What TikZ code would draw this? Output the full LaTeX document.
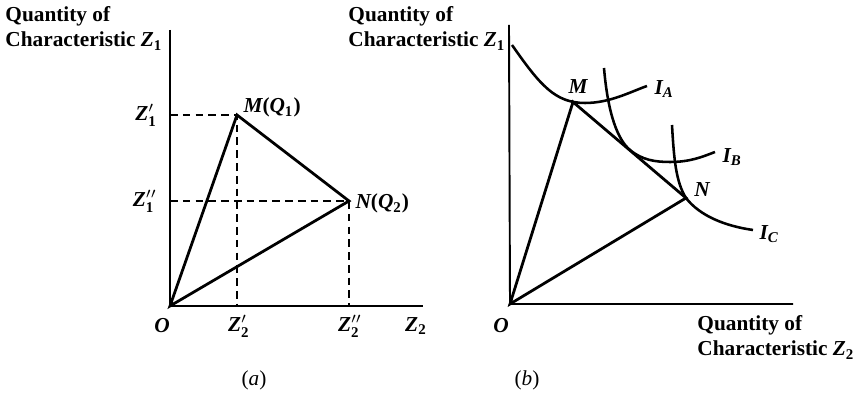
\documentclass[tikz,border=0pt]{standalone}
\usepackage{amsmath}
\usepackage{fontspec}
\setmainfont{Liberation Serif}
\usepackage{tikz}
\usetikzlibrary{calc,positioning}

\newcommand{\bi}[1]{\text{\bfseries\itshape #1}}
\newcommand{\bn}[1]{\text{\bfseries #1}}

\begin{document}
\begin{tikzpicture}[x=0.0165cm, y=-0.0165cm,
  axis/.style={line width=0.9pt},
  ray/.style={line width=1.3pt},
  guide/.style={dashed, dash pattern=on 3.6pt off 2.4pt, line width=0.7pt},
  curve/.style={line width=1.2pt},
  lab/.style={font=\bfseries, inner sep=1pt},
  title/.style={font=\bfseries, align=left, inner sep=0pt}
]
  \useasboundingbox (0,0) rectangle (854,408);

  % (a) points and axes
  \coordinate (Oa) at (170,306);
  \coordinate (Ya) at (170,30);
  \coordinate (Xa) at (423,306);
  \coordinate (Ma) at (237,115);
  \coordinate (Na) at (349,201);
  \coordinate (z1a) at (170,115);
  \coordinate (z1b) at (170,201);
  \coordinate (z2a) at (237,306);
  \coordinate (z2b) at (349,306);

  \draw[axis] (Ya) -- (Oa) -- (Xa);
  \draw[guide] (z1a) -- (Ma) -- (z2a);
  \draw[guide] (z1b) -- (Na) -- (z2b);
  \draw[ray] (Oa) -- (Ma) -- (Na) -- cycle;

  \node[title, anchor=north west] (qa) at (5,6) {Quantity of\\Characteristic $\bi{Z}_{\bn{1}}$};
  \node[lab, left=5pt of z1a] (lz1a) {$\bi{Z}'_{\bn{1}}$};
  \node[lab, left=5pt of z1b] (lz1b) {$\bi{Z}''_{\bn{1}}$};
  \node[lab] (lOa) at (162,326) {$\bi{O}$};
  \node[lab] (lz2a) at (239,326) {$\bi{Z}'_{\bn{2}}$};
  \node[lab] (lz2b) at (350,326) {$\bi{Z}''_{\bn{2}}$};
  \node[lab] (lz2) at (416,326) {$\bi{Z}_{\bn{2}}$};
  \node[lab, anchor=west] (lMa) at (241,107) {$\bi{M}\bn{(}\bi{Q}_{\bn{1}}\bn{)}$};
  \node[lab, anchor=west] (lNa) at (353,203) {$\bi{N}\bn{(}\bi{Q}_{\bn{2}}\bn{)}$};
  \node[lab, font=\normalfont] (capa) at (254,380) {(\textit{a})};

  % (b) points and axes
  \coordinate (Ob) at (510,304);
  \coordinate (Yb) at (509,25);
  \coordinate (Xb) at (793,304);
  \coordinate (Mb) at (573,102);
  \coordinate (Nb) at (686,198);

  \draw[axis] (Yb) -- (Ob) -- (Xb);
  \draw[ray] (Ob) -- (Mb) -- (Nb) -- cycle;

  % indifference curves
  \draw[curve] (512,45) .. controls (540,85) and (555,103) .. (585,103)
    .. controls (610,103) and (630,92) .. (647,86) coordinate (IAend);
  \draw[curve] (604,68) .. controls (608,115) and (618,140) .. (630,150)
    .. controls (642,160) and (655,162) .. (670,162)
    .. controls (690,162) and (702,157) .. (715,152) coordinate (IBend);
  \draw[curve] (672,125) .. controls (674,160) and (676,182) .. (686,198)
    .. controls (700,216) and (725,226) .. (753,230) coordinate (ICend);

  \node[title, anchor=north west] (qb) at (348,6) {Quantity of\\Characteristic $\bi{Z}_{\bn{1}}$};
  \node[title, anchor=north west] (qc) at (697,315) {Quantity of\\Characteristic $\bi{Z}_{\bn{2}}$};
  \node[lab] (lOb) at (501,326) {$\bi{O}$};
  \node[lab] (lMb) at (578,87) {$\bi{M}$};
  \node[lab] (lNb) at (702,190) {$\bi{N}$};
  \node[lab, anchor=west] (lIA) at (652,89) {$\bi{I}_{\bi{A}}$};
  \node[lab, anchor=west] (lIB) at (720,157) {$\bi{I}_{\bi{B}}$};
  \node[lab, anchor=west] (lIC) at (757,234) {$\bi{I}_{\bi{C}}$};
  \node[lab, font=\normalfont] (capb) at (527,380) {(\textit{b})};
\end{tikzpicture}
\end{document}
